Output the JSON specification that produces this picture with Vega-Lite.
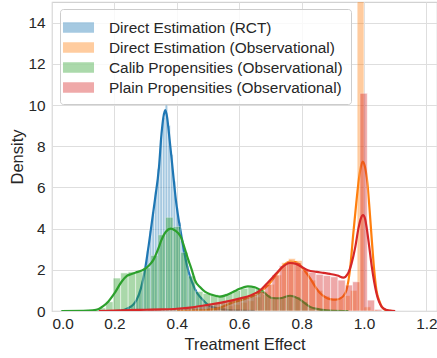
{
  "$schema": "https://vega.github.io/schema/vega-lite/v6.json",
  "width": 385,
  "height": 309,
  "autosize": {"type": "none"},
  "padding": {"left": 52, "top": 2, "right": 0, "bottom": 47},
  "background": "white",
  "config": {
    "font": "Liberation Sans",
    "view": {"stroke": "#d2d2d2", "strokeWidth": 1.2},
    "axis": {
      "grid": true, "gridColor": "#dedede", "gridWidth": 1,
      "domain": false, "ticks": false,
      "labelFont": "Liberation Sans", "labelFontSize": 15.4, "labelColor": "#262626",
      "titleFont": "Liberation Sans", "titleFontSize": 16.5, "titleColor": "#262626", "titleFontWeight": "normal"
    }
  },
  "datasets": {
    "bars": [
      {"s":"Direct Estimation (RCT)","x":0.218,"x1":0.2265,"d":0.03},
      {"s":"Direct Estimation (RCT)","x":0.2265,"x1":0.235,"d":0.05},
      {"s":"Direct Estimation (RCT)","x":0.235,"x1":0.2435,"d":0.1},
      {"s":"Direct Estimation (RCT)","x":0.2435,"x1":0.252,"d":0.15},
      {"s":"Direct Estimation (RCT)","x":0.252,"x1":0.2605,"d":0.25},
      {"s":"Direct Estimation (RCT)","x":0.2605,"x1":0.269,"d":0.4},
      {"s":"Direct Estimation (RCT)","x":0.269,"x1":0.2775,"d":0.6},
      {"s":"Direct Estimation (RCT)","x":0.2775,"x1":0.286,"d":0.95},
      {"s":"Direct Estimation (RCT)","x":0.286,"x1":0.2945,"d":1.45},
      {"s":"Direct Estimation (RCT)","x":0.2945,"x1":0.303,"d":2.1},
      {"s":"Direct Estimation (RCT)","x":0.303,"x1":0.3115,"d":2.9},
      {"s":"Direct Estimation (RCT)","x":0.3115,"x1":0.32,"d":3.9},
      {"s":"Direct Estimation (RCT)","x":0.32,"x1":0.3285,"d":4.8},
      {"s":"Direct Estimation (RCT)","x":0.3285,"x1":0.337,"d":5.8},
      {"s":"Direct Estimation (RCT)","x":0.337,"x1":0.3455,"d":6.9},
      {"s":"Direct Estimation (RCT)","x":0.3455,"x1":0.354,"d":8.3},
      {"s":"Direct Estimation (RCT)","x":0.354,"x1":0.3625,"d":9.4},
      {"s":"Direct Estimation (RCT)","x":0.3625,"x1":0.371,"d":10.0},
      {"s":"Direct Estimation (RCT)","x":0.371,"x1":0.3795,"d":9.0},
      {"s":"Direct Estimation (RCT)","x":0.3795,"x1":0.388,"d":7.6},
      {"s":"Direct Estimation (RCT)","x":0.388,"x1":0.3965,"d":6.3},
      {"s":"Direct Estimation (RCT)","x":0.3965,"x1":0.405,"d":5.0},
      {"s":"Direct Estimation (RCT)","x":0.405,"x1":0.4135,"d":4.3},
      {"s":"Direct Estimation (RCT)","x":0.4135,"x1":0.422,"d":3.5},
      {"s":"Direct Estimation (RCT)","x":0.422,"x1":0.4305,"d":2.8},
      {"s":"Direct Estimation (RCT)","x":0.4305,"x1":0.439,"d":2.2},
      {"s":"Direct Estimation (RCT)","x":0.439,"x1":0.4475,"d":1.75},
      {"s":"Direct Estimation (RCT)","x":0.4475,"x1":0.456,"d":1.4},
      {"s":"Direct Estimation (RCT)","x":0.456,"x1":0.4645,"d":1.05},
      {"s":"Direct Estimation (RCT)","x":0.4645,"x1":0.473,"d":0.85},
      {"s":"Direct Estimation (RCT)","x":0.473,"x1":0.4815,"d":0.65},
      {"s":"Direct Estimation (RCT)","x":0.4815,"x1":0.49,"d":0.5},
      {"s":"Direct Estimation (RCT)","x":0.49,"x1":0.4985,"d":0.38},
      {"s":"Direct Estimation (RCT)","x":0.4985,"x1":0.507,"d":0.3},
      {"s":"Direct Estimation (RCT)","x":0.507,"x1":0.5155,"d":0.22},
      {"s":"Direct Estimation (RCT)","x":0.5155,"x1":0.524,"d":0.15},
      {"s":"Direct Estimation (RCT)","x":0.524,"x1":0.5325,"d":0.12},
      {"s":"Direct Estimation (RCT)","x":0.5325,"x1":0.541,"d":0.08},
      {"s":"Direct Estimation (RCT)","x":0.541,"x1":0.5495,"d":0.05},
      {"s":"Direct Estimation (RCT)","x":0.5495,"x1":0.558,"d":0.03},

      {"s":"Direct Estimation (Observational)","x":0.450,"x1":0.472,"d":0.03},
      {"s":"Direct Estimation (Observational)","x":0.472,"x1":0.494,"d":0.05},
      {"s":"Direct Estimation (Observational)","x":0.494,"x1":0.516,"d":0.08},
      {"s":"Direct Estimation (Observational)","x":0.516,"x1":0.538,"d":0.12},
      {"s":"Direct Estimation (Observational)","x":0.538,"x1":0.560,"d":0.18},
      {"s":"Direct Estimation (Observational)","x":0.560,"x1":0.582,"d":0.25},
      {"s":"Direct Estimation (Observational)","x":0.582,"x1":0.604,"d":0.32},
      {"s":"Direct Estimation (Observational)","x":0.604,"x1":0.626,"d":0.42},
      {"s":"Direct Estimation (Observational)","x":0.626,"x1":0.648,"d":0.5},
      {"s":"Direct Estimation (Observational)","x":0.648,"x1":0.670,"d":0.68},
      {"s":"Direct Estimation (Observational)","x":0.670,"x1":0.692,"d":0.95},
      {"s":"Direct Estimation (Observational)","x":0.692,"x1":0.714,"d":1.3},
      {"s":"Direct Estimation (Observational)","x":0.714,"x1":0.736,"d":1.75},
      {"s":"Direct Estimation (Observational)","x":0.736,"x1":0.758,"d":2.35},
      {"s":"Direct Estimation (Observational)","x":0.758,"x1":0.780,"d":2.55},
      {"s":"Direct Estimation (Observational)","x":0.780,"x1":0.802,"d":2.45},
      {"s":"Direct Estimation (Observational)","x":0.802,"x1":0.824,"d":1.95},
      {"s":"Direct Estimation (Observational)","x":0.824,"x1":0.846,"d":1.5},
      {"s":"Direct Estimation (Observational)","x":0.846,"x1":0.868,"d":1.0},
      {"s":"Direct Estimation (Observational)","x":0.868,"x1":0.890,"d":0.72},
      {"s":"Direct Estimation (Observational)","x":0.890,"x1":0.912,"d":0.6},
      {"s":"Direct Estimation (Observational)","x":0.912,"x1":0.934,"d":0.62},
      {"s":"Direct Estimation (Observational)","x":0.934,"x1":0.956,"d":0.75},
      {"s":"Direct Estimation (Observational)","x":0.956,"x1":0.978,"d":1.0},
      {"s":"Direct Estimation (Observational)","x":0.978,"x1":1.000,"d":22.0},
      {"s":"Direct Estimation (Observational)","x":1.000,"x1":1.022,"d":0.2},
      {"s":"Direct Estimation (Observational)","x":1.022,"x1":1.044,"d":0.05},

      {"s":"Calib Propensities (Observational)","x":0.028,"x1":0.052,"d":0.05},
      {"s":"Calib Propensities (Observational)","x":0.052,"x1":0.076,"d":0.03},
      {"s":"Calib Propensities (Observational)","x":0.076,"x1":0.100,"d":0.03},
      {"s":"Calib Propensities (Observational)","x":0.100,"x1":0.124,"d":0.05},
      {"s":"Calib Propensities (Observational)","x":0.124,"x1":0.148,"d":0.05},
      {"s":"Calib Propensities (Observational)","x":0.148,"x1":0.172,"d":0.15},
      {"s":"Calib Propensities (Observational)","x":0.172,"x1":0.196,"d":0.45},
      {"s":"Calib Propensities (Observational)","x":0.196,"x1":0.220,"d":1.6},
      {"s":"Calib Propensities (Observational)","x":0.220,"x1":0.244,"d":1.85},
      {"s":"Calib Propensities (Observational)","x":0.244,"x1":0.268,"d":1.9},
      {"s":"Calib Propensities (Observational)","x":0.268,"x1":0.292,"d":1.9},
      {"s":"Calib Propensities (Observational)","x":0.292,"x1":0.316,"d":2.1},
      {"s":"Calib Propensities (Observational)","x":0.316,"x1":0.340,"d":2.7},
      {"s":"Calib Propensities (Observational)","x":0.340,"x1":0.364,"d":3.7},
      {"s":"Calib Propensities (Observational)","x":0.364,"x1":0.388,"d":4.55},
      {"s":"Calib Propensities (Observational)","x":0.388,"x1":0.412,"d":4.1},
      {"s":"Calib Propensities (Observational)","x":0.412,"x1":0.436,"d":2.85},
      {"s":"Calib Propensities (Observational)","x":0.436,"x1":0.460,"d":1.7},
      {"s":"Calib Propensities (Observational)","x":0.460,"x1":0.484,"d":0.95},
      {"s":"Calib Propensities (Observational)","x":0.484,"x1":0.508,"d":0.85},
      {"s":"Calib Propensities (Observational)","x":0.508,"x1":0.532,"d":0.8},
      {"s":"Calib Propensities (Observational)","x":0.532,"x1":0.556,"d":0.75},
      {"s":"Calib Propensities (Observational)","x":0.556,"x1":0.580,"d":0.85},
      {"s":"Calib Propensities (Observational)","x":0.580,"x1":0.604,"d":1.0},
      {"s":"Calib Propensities (Observational)","x":0.604,"x1":0.628,"d":1.1},
      {"s":"Calib Propensities (Observational)","x":0.628,"x1":0.652,"d":1.15},
      {"s":"Calib Propensities (Observational)","x":0.652,"x1":0.676,"d":1.1},
      {"s":"Calib Propensities (Observational)","x":0.676,"x1":0.700,"d":0.8},
      {"s":"Calib Propensities (Observational)","x":0.700,"x1":0.724,"d":0.65},
      {"s":"Calib Propensities (Observational)","x":0.724,"x1":0.748,"d":0.65},
      {"s":"Calib Propensities (Observational)","x":0.748,"x1":0.772,"d":0.75},
      {"s":"Calib Propensities (Observational)","x":0.772,"x1":0.796,"d":0.7},
      {"s":"Calib Propensities (Observational)","x":0.796,"x1":0.820,"d":0.45},
      {"s":"Calib Propensities (Observational)","x":0.820,"x1":0.844,"d":0.2},
      {"s":"Calib Propensities (Observational)","x":0.844,"x1":0.868,"d":0.08},

      {"s":"Plain Propensities (Observational)","x":0.2115,"x1":0.235,"d":0.03},
      {"s":"Plain Propensities (Observational)","x":0.235,"x1":0.2585,"d":0.03},
      {"s":"Plain Propensities (Observational)","x":0.2585,"x1":0.282,"d":0.05},
      {"s":"Plain Propensities (Observational)","x":0.282,"x1":0.3055,"d":0.05},
      {"s":"Plain Propensities (Observational)","x":0.3055,"x1":0.329,"d":0.06},
      {"s":"Plain Propensities (Observational)","x":0.329,"x1":0.3525,"d":0.08},
      {"s":"Plain Propensities (Observational)","x":0.3525,"x1":0.376,"d":0.08},
      {"s":"Plain Propensities (Observational)","x":0.376,"x1":0.3995,"d":0.1},
      {"s":"Plain Propensities (Observational)","x":0.3995,"x1":0.423,"d":0.12},
      {"s":"Plain Propensities (Observational)","x":0.423,"x1":0.4465,"d":0.15},
      {"s":"Plain Propensities (Observational)","x":0.4465,"x1":0.47,"d":0.2},
      {"s":"Plain Propensities (Observational)","x":0.47,"x1":0.4935,"d":0.25},
      {"s":"Plain Propensities (Observational)","x":0.4935,"x1":0.517,"d":0.32},
      {"s":"Plain Propensities (Observational)","x":0.517,"x1":0.5405,"d":0.4},
      {"s":"Plain Propensities (Observational)","x":0.5405,"x1":0.564,"d":0.45},
      {"s":"Plain Propensities (Observational)","x":0.564,"x1":0.5875,"d":0.52},
      {"s":"Plain Propensities (Observational)","x":0.5875,"x1":0.611,"d":0.6},
      {"s":"Plain Propensities (Observational)","x":0.611,"x1":0.6345,"d":0.68},
      {"s":"Plain Propensities (Observational)","x":0.6345,"x1":0.658,"d":0.8},
      {"s":"Plain Propensities (Observational)","x":0.658,"x1":0.6815,"d":0.95},
      {"s":"Plain Propensities (Observational)","x":0.6815,"x1":0.705,"d":1.3},
      {"s":"Plain Propensities (Observational)","x":0.705,"x1":0.7285,"d":1.75},
      {"s":"Plain Propensities (Observational)","x":0.7285,"x1":0.752,"d":2.2},
      {"s":"Plain Propensities (Observational)","x":0.752,"x1":0.7755,"d":2.4},
      {"s":"Plain Propensities (Observational)","x":0.7755,"x1":0.799,"d":2.35},
      {"s":"Plain Propensities (Observational)","x":0.799,"x1":0.8225,"d":2.0},
      {"s":"Plain Propensities (Observational)","x":0.8225,"x1":0.846,"d":1.88},
      {"s":"Plain Propensities (Observational)","x":0.846,"x1":0.8695,"d":1.78},
      {"s":"Plain Propensities (Observational)","x":0.8695,"x1":0.893,"d":1.72},
      {"s":"Plain Propensities (Observational)","x":0.893,"x1":0.9165,"d":1.66},
      {"s":"Plain Propensities (Observational)","x":0.9165,"x1":0.94,"d":1.5},
      {"s":"Plain Propensities (Observational)","x":0.94,"x1":0.9635,"d":1.26},
      {"s":"Plain Propensities (Observational)","x":0.9635,"x1":0.987,"d":1.42},
      {"s":"Plain Propensities (Observational)","x":0.987,"x1":1.0105,"d":10.57},
      {"s":"Plain Propensities (Observational)","x":1.0105,"x1":1.034,"d":0.53},
      {"s":"Plain Propensities (Observational)","x":1.034,"x1":1.0575,"d":0.08}
    ],
    "kde": [
      {"s":"Direct Estimation (RCT)","x":0.20,"d":0},
      {"s":"Direct Estimation (RCT)","x":0.22,"d":0.02},
      {"s":"Direct Estimation (RCT)","x":0.245,"d":0.15},
      {"s":"Direct Estimation (RCT)","x":0.26,"d":0.3},
      {"s":"Direct Estimation (RCT)","x":0.271,"d":0.53},
      {"s":"Direct Estimation (RCT)","x":0.285,"d":1.1},
      {"s":"Direct Estimation (RCT)","x":0.298,"d":2.0},
      {"s":"Direct Estimation (RCT)","x":0.31,"d":3.2},
      {"s":"Direct Estimation (RCT)","x":0.32,"d":4.3},
      {"s":"Direct Estimation (RCT)","x":0.33,"d":5.4},
      {"s":"Direct Estimation (RCT)","x":0.343,"d":7.0},
      {"s":"Direct Estimation (RCT)","x":0.351,"d":8.6},
      {"s":"Direct Estimation (RCT)","x":0.357,"d":9.4},
      {"s":"Direct Estimation (RCT)","x":0.363,"d":9.75},
      {"s":"Direct Estimation (RCT)","x":0.369,"d":9.4},
      {"s":"Direct Estimation (RCT)","x":0.375,"d":8.6},
      {"s":"Direct Estimation (RCT)","x":0.386,"d":7.0},
      {"s":"Direct Estimation (RCT)","x":0.397,"d":5.4},
      {"s":"Direct Estimation (RCT)","x":0.413,"d":3.8},
      {"s":"Direct Estimation (RCT)","x":0.436,"d":2.0},
      {"s":"Direct Estimation (RCT)","x":0.45,"d":1.35},
      {"s":"Direct Estimation (RCT)","x":0.464,"d":0.9},
      {"s":"Direct Estimation (RCT)","x":0.48,"d":0.6},
      {"s":"Direct Estimation (RCT)","x":0.50,"d":0.3},
      {"s":"Direct Estimation (RCT)","x":0.53,"d":0.12},
      {"s":"Direct Estimation (RCT)","x":0.56,"d":0.05},
      {"s":"Direct Estimation (RCT)","x":0.60,"d":0.02},
      {"s":"Direct Estimation (RCT)","x":0.65,"d":0},

      {"s":"Direct Estimation (Observational)","x":0.40,"d":0},
      {"s":"Direct Estimation (Observational)","x":0.45,"d":0.02},
      {"s":"Direct Estimation (Observational)","x":0.50,"d":0.06},
      {"s":"Direct Estimation (Observational)","x":0.538,"d":0.15},
      {"s":"Direct Estimation (Observational)","x":0.58,"d":0.42},
      {"s":"Direct Estimation (Observational)","x":0.60,"d":0.5},
      {"s":"Direct Estimation (Observational)","x":0.62,"d":0.6},
      {"s":"Direct Estimation (Observational)","x":0.64,"d":0.7},
      {"s":"Direct Estimation (Observational)","x":0.66,"d":0.85},
      {"s":"Direct Estimation (Observational)","x":0.68,"d":1.08},
      {"s":"Direct Estimation (Observational)","x":0.70,"d":1.38},
      {"s":"Direct Estimation (Observational)","x":0.715,"d":1.7},
      {"s":"Direct Estimation (Observational)","x":0.731,"d":2.0},
      {"s":"Direct Estimation (Observational)","x":0.745,"d":2.25},
      {"s":"Direct Estimation (Observational)","x":0.763,"d":2.4},
      {"s":"Direct Estimation (Observational)","x":0.78,"d":2.38},
      {"s":"Direct Estimation (Observational)","x":0.79,"d":2.3},
      {"s":"Direct Estimation (Observational)","x":0.81,"d":1.95},
      {"s":"Direct Estimation (Observational)","x":0.827,"d":1.6},
      {"s":"Direct Estimation (Observational)","x":0.843,"d":1.2},
      {"s":"Direct Estimation (Observational)","x":0.859,"d":0.87},
      {"s":"Direct Estimation (Observational)","x":0.875,"d":0.68},
      {"s":"Direct Estimation (Observational)","x":0.891,"d":0.58},
      {"s":"Direct Estimation (Observational)","x":0.91,"d":0.55},
      {"s":"Direct Estimation (Observational)","x":0.923,"d":0.6},
      {"s":"Direct Estimation (Observational)","x":0.935,"d":0.75},
      {"s":"Direct Estimation (Observational)","x":0.944,"d":1.02},
      {"s":"Direct Estimation (Observational)","x":0.955,"d":2.0},
      {"s":"Direct Estimation (Observational)","x":0.966,"d":3.8},
      {"s":"Direct Estimation (Observational)","x":0.975,"d":5.2},
      {"s":"Direct Estimation (Observational)","x":0.982,"d":6.2},
      {"s":"Direct Estimation (Observational)","x":0.99,"d":7.0},
      {"s":"Direct Estimation (Observational)","x":0.996,"d":7.25},
      {"s":"Direct Estimation (Observational)","x":1.003,"d":7.0},
      {"s":"Direct Estimation (Observational)","x":1.011,"d":6.2},
      {"s":"Direct Estimation (Observational)","x":1.018,"d":4.9},
      {"s":"Direct Estimation (Observational)","x":1.025,"d":3.45},
      {"s":"Direct Estimation (Observational)","x":1.032,"d":2.1},
      {"s":"Direct Estimation (Observational)","x":1.04,"d":1.0},
      {"s":"Direct Estimation (Observational)","x":1.05,"d":0.45},
      {"s":"Direct Estimation (Observational)","x":1.057,"d":0.2},
      {"s":"Direct Estimation (Observational)","x":1.07,"d":0.05},
      {"s":"Direct Estimation (Observational)","x":1.09,"d":0},

      {"s":"Calib Propensities (Observational)","x":0.03,"d":0},
      {"s":"Calib Propensities (Observational)","x":0.10,"d":0.005},
      {"s":"Calib Propensities (Observational)","x":0.13,"d":0.03},
      {"s":"Calib Propensities (Observational)","x":0.15,"d":0.1},
      {"s":"Calib Propensities (Observational)","x":0.165,"d":0.25},
      {"s":"Calib Propensities (Observational)","x":0.18,"d":0.45},
      {"s":"Calib Propensities (Observational)","x":0.20,"d":0.85},
      {"s":"Calib Propensities (Observational)","x":0.223,"d":1.42},
      {"s":"Calib Propensities (Observational)","x":0.24,"d":1.7},
      {"s":"Calib Propensities (Observational)","x":0.255,"d":1.8},
      {"s":"Calib Propensities (Observational)","x":0.275,"d":1.9},
      {"s":"Calib Propensities (Observational)","x":0.293,"d":2.0},
      {"s":"Calib Propensities (Observational)","x":0.31,"d":2.2},
      {"s":"Calib Propensities (Observational)","x":0.325,"d":2.48},
      {"s":"Calib Propensities (Observational)","x":0.34,"d":3.0},
      {"s":"Calib Propensities (Observational)","x":0.351,"d":3.45},
      {"s":"Calib Propensities (Observational)","x":0.365,"d":3.85},
      {"s":"Calib Propensities (Observational)","x":0.381,"d":4.0},
      {"s":"Calib Propensities (Observational)","x":0.395,"d":3.9},
      {"s":"Calib Propensities (Observational)","x":0.413,"d":3.6},
      {"s":"Calib Propensities (Observational)","x":0.425,"d":3.05},
      {"s":"Calib Propensities (Observational)","x":0.437,"d":2.48},
      {"s":"Calib Propensities (Observational)","x":0.448,"d":2.0},
      {"s":"Calib Propensities (Observational)","x":0.458,"d":1.5},
      {"s":"Calib Propensities (Observational)","x":0.475,"d":1.15},
      {"s":"Calib Propensities (Observational)","x":0.49,"d":0.94},
      {"s":"Calib Propensities (Observational)","x":0.51,"d":0.8},
      {"s":"Calib Propensities (Observational)","x":0.538,"d":0.7},
      {"s":"Calib Propensities (Observational)","x":0.56,"d":0.78},
      {"s":"Calib Propensities (Observational)","x":0.59,"d":1.0},
      {"s":"Calib Propensities (Observational)","x":0.628,"d":1.2},
      {"s":"Calib Propensities (Observational)","x":0.65,"d":1.15},
      {"s":"Calib Propensities (Observational)","x":0.675,"d":0.95},
      {"s":"Calib Propensities (Observational)","x":0.705,"d":0.63},
      {"s":"Calib Propensities (Observational)","x":0.73,"d":0.62},
      {"s":"Calib Propensities (Observational)","x":0.763,"d":0.74},
      {"s":"Calib Propensities (Observational)","x":0.79,"d":0.6},
      {"s":"Calib Propensities (Observational)","x":0.81,"d":0.38},
      {"s":"Calib Propensities (Observational)","x":0.827,"d":0.2},
      {"s":"Calib Propensities (Observational)","x":0.86,"d":0.07},
      {"s":"Calib Propensities (Observational)","x":0.90,"d":0.01},
      {"s":"Calib Propensities (Observational)","x":0.95,"d":0},

      {"s":"Plain Propensities (Observational)","x":0.15,"d":0},
      {"s":"Plain Propensities (Observational)","x":0.20,"d":0.02},
      {"s":"Plain Propensities (Observational)","x":0.25,"d":0.04},
      {"s":"Plain Propensities (Observational)","x":0.30,"d":0.06},
      {"s":"Plain Propensities (Observational)","x":0.35,"d":0.08},
      {"s":"Plain Propensities (Observational)","x":0.40,"d":0.11},
      {"s":"Plain Propensities (Observational)","x":0.45,"d":0.18},
      {"s":"Plain Propensities (Observational)","x":0.50,"d":0.3},
      {"s":"Plain Propensities (Observational)","x":0.55,"d":0.43},
      {"s":"Plain Propensities (Observational)","x":0.60,"d":0.6},
      {"s":"Plain Propensities (Observational)","x":0.64,"d":0.78},
      {"s":"Plain Propensities (Observational)","x":0.667,"d":1.0},
      {"s":"Plain Propensities (Observational)","x":0.69,"d":1.35},
      {"s":"Plain Propensities (Observational)","x":0.72,"d":1.84},
      {"s":"Plain Propensities (Observational)","x":0.74,"d":2.15},
      {"s":"Plain Propensities (Observational)","x":0.763,"d":2.33},
      {"s":"Plain Propensities (Observational)","x":0.78,"d":2.3},
      {"s":"Plain Propensities (Observational)","x":0.795,"d":2.18},
      {"s":"Plain Propensities (Observational)","x":0.82,"d":1.98},
      {"s":"Plain Propensities (Observational)","x":0.848,"d":1.9},
      {"s":"Plain Propensities (Observational)","x":0.87,"d":1.85},
      {"s":"Plain Propensities (Observational)","x":0.891,"d":1.8},
      {"s":"Plain Propensities (Observational)","x":0.915,"d":1.72},
      {"s":"Plain Propensities (Observational)","x":0.934,"d":1.62},
      {"s":"Plain Propensities (Observational)","x":0.948,"d":1.8},
      {"s":"Plain Propensities (Observational)","x":0.96,"d":2.3},
      {"s":"Plain Propensities (Observational)","x":0.972,"d":3.1},
      {"s":"Plain Propensities (Observational)","x":0.982,"d":4.0},
      {"s":"Plain Propensities (Observational)","x":0.99,"d":4.5},
      {"s":"Plain Propensities (Observational)","x":0.997,"d":4.66},
      {"s":"Plain Propensities (Observational)","x":1.003,"d":4.5},
      {"s":"Plain Propensities (Observational)","x":1.009,"d":4.0},
      {"s":"Plain Propensities (Observational)","x":1.017,"d":3.1},
      {"s":"Plain Propensities (Observational)","x":1.025,"d":2.15},
      {"s":"Plain Propensities (Observational)","x":1.04,"d":0.86},
      {"s":"Plain Propensities (Observational)","x":1.057,"d":0.2},
      {"s":"Plain Propensities (Observational)","x":1.07,"d":0.06},
      {"s":"Plain Propensities (Observational)","x":1.083,"d":0.02},
      {"s":"Plain Propensities (Observational)","x":1.10,"d":0}
    ]
  },
  "encoding": {
    "x": {
      "field": "x", "type": "quantitative",
      "scale": {"domain": [0, 1.234], "nice": false, "zero": false},
      "axis": {"values": [0, 0.2, 0.4, 0.6, 0.8, 1.0, 1.2], "format": ".1f", "labelPadding": 5, "titlePadding": 5},
      "title": "Treatment Effect"
    },
    "y": {
      "field": "d", "type": "quantitative",
      "scale": {"domain": [0, 15], "nice": false},
      "axis": {"values": [0, 2, 4, 6, 8, 10, 12, 14], "labelPadding": 7, "titlePadding": 2},
      "title": "Density"
    },
    "color": {
      "field": "s", "type": "nominal",
      "scale": {
        "domain": ["Direct Estimation (RCT)", "Direct Estimation (Observational)", "Calib Propensities (Observational)", "Plain Propensities (Observational)"],
        "range": ["#1f77b4", "#ff7f0e", "#2ca02c", "#d62728"]
      },
      "legend": {
        "title": null, "orient": "none", "legendX": 8, "legendY": 7,
        "symbolType": "M-1.5,-0.5H1.5V0.5H-1.5Z", "symbolSize": 428,
        "symbolOpacity": 0.4, "symbolStrokeWidth": 0,
        "labelFont": "Liberation Sans", "labelFontSize": 15.4, "labelColor": "#262626",
        "labelOffset": 20, "labelLimit": 400, "rowPadding": 1,
        "padding": 8, "strokeColor": "#cccccc", "fillColor": "rgba(255,255,255,0.8)", "cornerRadius": 3,
        "encode": {"symbols": {"update": {"fill": {"scale": "color", "field": "value"}, "stroke": {"value": "transparent"}, "opacity": {"value": 0.4}}}}
      }
    }
  },
  "layer": [
    {"data": {"name": "bars"}, "transform": [{"filter": "datum.s == 'Direct Estimation (RCT)'"}],
     "mark": {"type": "rect", "opacity": 0.4, "stroke": "white", "strokeWidth": 0.6, "clip": true},
     "encoding": {"x2": {"field": "x1"}, "y2": {"datum": 0}}},
    {"data": {"name": "kde"}, "transform": [{"filter": "datum.s == 'Direct Estimation (RCT)'"}],
     "mark": {"type": "line", "strokeWidth": 2.2, "interpolate": "monotone", "clip": true}, "encoding": {}},
    {"data": {"name": "bars"}, "transform": [{"filter": "datum.s == 'Direct Estimation (Observational)'"}],
     "mark": {"type": "rect", "opacity": 0.4, "stroke": "white", "strokeWidth": 0.6, "clip": true},
     "encoding": {"x2": {"field": "x1"}, "y2": {"datum": 0}}},
    {"data": {"name": "kde"}, "transform": [{"filter": "datum.s == 'Direct Estimation (Observational)'"}],
     "mark": {"type": "line", "strokeWidth": 2.2, "interpolate": "monotone", "clip": true}, "encoding": {}},
    {"data": {"name": "bars"}, "transform": [{"filter": "datum.s == 'Calib Propensities (Observational)'"}],
     "mark": {"type": "rect", "opacity": 0.4, "stroke": "white", "strokeWidth": 0.6, "clip": true},
     "encoding": {"x2": {"field": "x1"}, "y2": {"datum": 0}}},
    {"data": {"name": "kde"}, "transform": [{"filter": "datum.s == 'Calib Propensities (Observational)'"}],
     "mark": {"type": "line", "strokeWidth": 2.2, "interpolate": "monotone", "clip": true}, "encoding": {}},
    {"data": {"name": "bars"}, "transform": [{"filter": "datum.s == 'Plain Propensities (Observational)'"}],
     "mark": {"type": "rect", "opacity": 0.4, "stroke": "white", "strokeWidth": 0.6, "clip": true},
     "encoding": {"x2": {"field": "x1"}, "y2": {"datum": 0}}},
    {"data": {"name": "kde"}, "transform": [{"filter": "datum.s == 'Plain Propensities (Observational)'"}],
     "mark": {"type": "line", "strokeWidth": 2.2, "interpolate": "monotone", "clip": true}, "encoding": {}}
  ]
}
